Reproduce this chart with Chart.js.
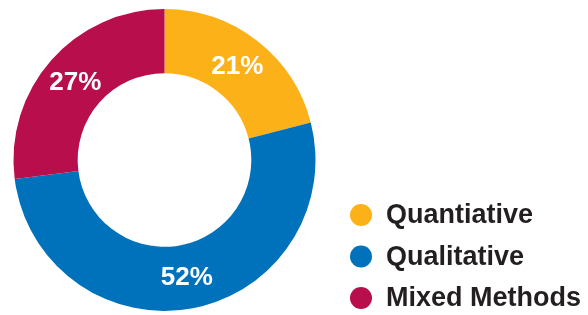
<!DOCTYPE html>
<html lang="en">

<head>
    <meta charset="UTF-8">
    <title>Research Methods</title>
    <script src="https://cdn.jsdelivr.net/npm/chart.js"></script>
    <style>
        html, body { margin: 0; padding: 0; background: #fff; }
        #donut { display: block; }
    </style>
</head>

<body>
    <canvas id="donut" width="588" height="315"></canvas>

    <script>
        // data
        const methodLabels = ['Quantiative', 'Qualitative', 'Mixed Methods'];
        const methodShares = [21, 52, 27];
        const methodColors = ['#FDB119', '#0072BB', '#B80E4B'];

        const FONT = '"Liberation Sans", Arial, Helvetica, sans-serif';

        // percent text in the middle of each ring segment
        const sliceLabels = {
            id: 'sliceLabels',
            afterDatasetsDraw(chart) {
                const ctx = chart.ctx;
                const meta = chart.getDatasetMeta(0);
                ctx.save();
                ctx.font = 'bold 26px ' + FONT;
                ctx.fillStyle = '#fff';
                ctx.textAlign = 'center';
                ctx.textBaseline = 'middle';
                meta.data.forEach((arc, i) => {
                    const pos = arc.tooltipPosition();
                    ctx.fillText(chart.data.datasets[0].data[i] + '%', pos.x, pos.y + 1);
                });
                ctx.restore();
            }
        };

        // legend bottom right, round markers
        const sideLegend = {
            id: 'sideLegend',
            afterDraw(chart) {
                const ctx = chart.ctx;
                const x0 = 361, y0 = 215, step = 41.5;
                ctx.save();
                ctx.font = 'bold 27px ' + FONT;
                ctx.textBaseline = 'middle';
                chart.data.labels.forEach((label, i) => {
                    const y = y0 + i * step;
                    ctx.fillStyle = chart.data.datasets[0].backgroundColor[i];
                    ctx.beginPath();
                    ctx.arc(x0, y, 11, 0, Math.PI * 2);
                    ctx.fill();
                    ctx.fillStyle = '#231F20';
                    ctx.fillText(label, 386, y + 1);
                });
                ctx.restore();
            }
        };

        new Chart(document.getElementById('donut'), {
            type: 'doughnut',
            data: {
                labels: methodLabels,
                datasets: [{
                    data: methodShares,
                    backgroundColor: methodColors,
                    borderWidth: 0
                }]
            },
            options: {
                responsive: false,
                animation: false,
                cutout: '57.5%',
                layout: { padding: { left: 13, top: 9, right: 272, bottom: 4 } },
                plugins: {
                    legend: { display: false },
                    tooltip: { enabled: false }
                }
            },
            plugins: [sliceLabels, sideLegend]
        });
    </script>
</body>

</html>
